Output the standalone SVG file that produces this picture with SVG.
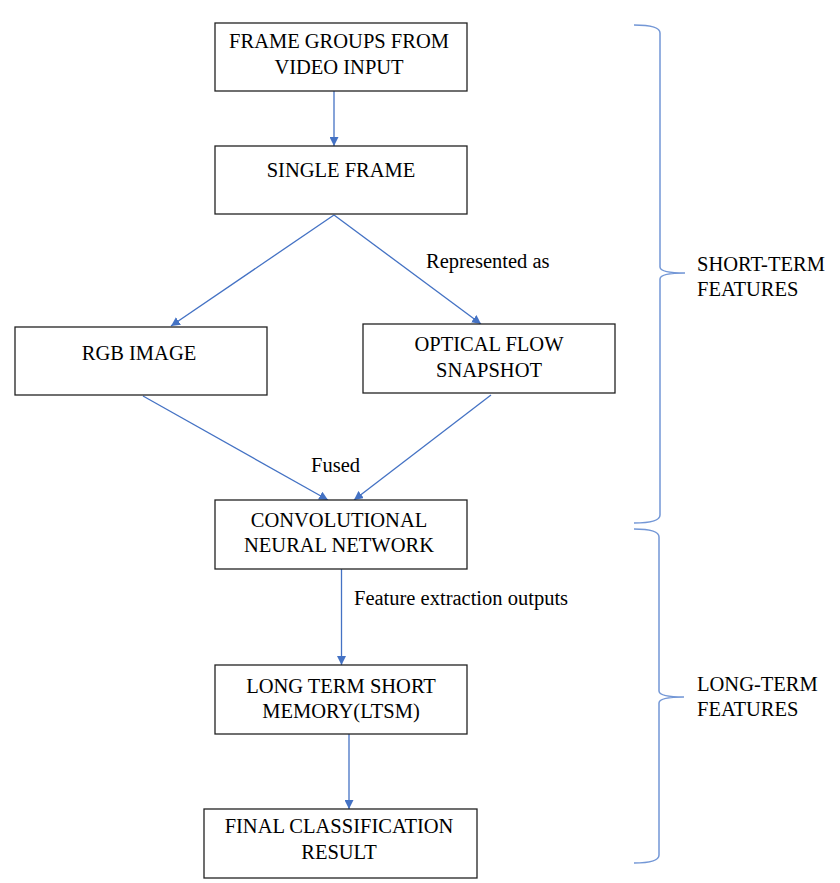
<svg xmlns="http://www.w3.org/2000/svg" width="840" height="883" viewBox="0 0 840 883">
<style>
.box{fill:#fff;stroke:#222;stroke-width:1.3}
.t{font-family:"Liberation Serif","Times New Roman",serif;font-size:20.5px;fill:#000}
.c{text-anchor:middle}
.con{stroke:#4472C4;stroke-width:1.3;fill:none}
.brace{stroke:#7397D6;stroke-width:1.5;fill:none}
</style>
<defs>
<marker id="ah" viewBox="0 0 10 10" refX="10" refY="5" markerWidth="9" markerHeight="9" markerUnits="userSpaceOnUse" orient="auto">
<path d="M0,0 L10,5 L0,10 z" fill="#4472C4"/>
</marker>
</defs>
<rect width="840" height="883" fill="#fff"/>
<g id="connectors">
<line class="con" x1="334" y1="91" x2="334" y2="146" marker-end="url(#ah)"/>
<line class="con" x1="334" y1="215" x2="171" y2="326" marker-end="url(#ah)"/>
<line class="con" x1="334" y1="215" x2="481" y2="324" marker-end="url(#ah)"/>
<line class="con" x1="143" y1="396" x2="328" y2="500" marker-end="url(#ah)"/>
<line class="con" x1="491" y1="395" x2="354" y2="500" marker-end="url(#ah)"/>
<line class="con" x1="341.5" y1="569" x2="341.5" y2="665" marker-end="url(#ah)"/>
<line class="con" x1="349" y1="734" x2="349" y2="809" marker-end="url(#ah)"/>
<text class="t" x="426" y="268">Represented as</text>
<text class="t" x="311" y="472">Fused</text>
<text class="t" x="354" y="605">Feature extraction outputs</text>
</g>
<g id="frame-groups">
<rect class="box" x="215" y="23" width="252" height="68"/>
<text class="t c" x="339" y="48">FRAME GROUPS FROM</text>
<text class="t c" x="339" y="74">VIDEO INPUT</text>
</g>
<g id="single-frame">
<rect class="box" x="215" y="146" width="252" height="68"/>
<text class="t c" x="341" y="177">SINGLE FRAME</text>
</g>
<g id="rgb-image">
<rect class="box" x="15" y="327" width="252" height="68"/>
<text class="t c" x="139" y="360">RGB IMAGE</text>
</g>
<g id="optical-flow">
<rect class="box" x="363" y="324" width="252" height="69"/>
<text class="t c" x="489" y="351">OPTICAL FLOW</text>
<text class="t c" x="489" y="377">SNAPSHOT</text>
</g>
<g id="cnn">
<rect class="box" x="215" y="500" width="252" height="69"/>
<text class="t c" x="339" y="527">CONVOLUTIONAL</text>
<text class="t c" x="339" y="552">NEURAL NETWORK</text>
</g>
<g id="lstm">
<rect class="box" x="215" y="665" width="252" height="69"/>
<text class="t c" x="341" y="693">LONG TERM SHORT</text>
<text class="t c" x="341" y="718">MEMORY(LTSM)</text>
</g>
<g id="final">
<rect class="box" x="204" y="809" width="273" height="69"/>
<text class="t c" x="339" y="833">FINAL CLASSIFICATION</text>
<text class="t c" x="339" y="859">RESULT</text>
</g>
<g id="short-term">
<path class="brace" d="M634,25 Q660,25 660,33 L660,267 Q660,273 685,273 Q660,273 660,279 L660,515 Q660,523 634,523"/>
<text class="t" x="697" y="271">SHORT-TERM</text>
<text class="t" x="697" y="296">FEATURES</text>
</g>
<g id="long-term">
<path class="brace" d="M634,529 Q659,529 659,537 L659,691 Q659,697 684,697 Q659,697 659,703 L659,855 Q659,863 634,863"/>
<text class="t" x="697" y="691">LONG-TERM</text>
<text class="t" x="697" y="716">FEATURES</text>
</g>
</svg>
